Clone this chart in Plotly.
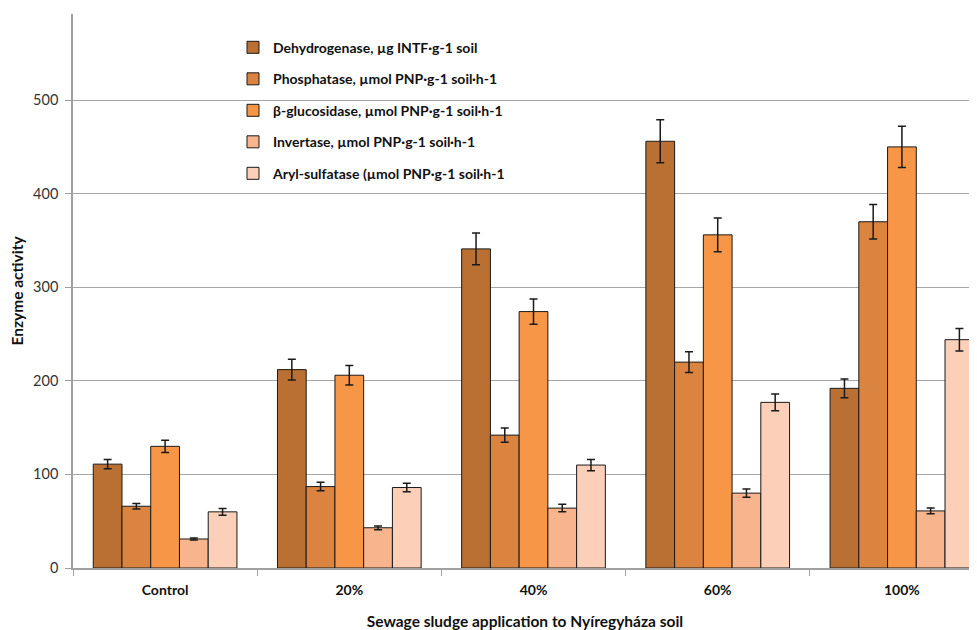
import plotly.graph_objects as go

categories = ["Control", "20%", "40%", "60%", "100%"]

series_names = [
    "Dehydrogenase, µg INTF·g-1 soil",
    "Phosphatase, µmol PNP·g-1 soil·h-1",
    "β-glucosidase, µmol PNP·g-1 soil·h-1",
    "Invertase, µmol PNP·g-1 soil·h-1",
    "Aryl-sulfatase (µmol PNP·g-1 soil·h-1",
]

dehydrogenase = [111, 212, 341, 456, 192]
phosphatase = [66, 87, 142, 220, 370]
glucosidase = [130, 206, 274, 356, 450]
invertase = [31, 43, 64, 80, 61]
arylsulfatase = [60, 86, 110, 177, 244]

dehydrogenase_err = [5, 11, 17, 23, 10]
phosphatase_err = [3, 4.5, 7.5, 11, 18.5]
glucosidase_err = [6.5, 10.5, 13.5, 18, 22]
invertase_err = [1, 2, 4, 4.5, 3]
arylsulfatase_err = [3.5, 4.5, 6, 9, 12]

colors = ["#BA7033", "#DA843F", "#F79646", "#F8B48D", "#FBCFB8"]

values = [dehydrogenase, phosphatase, glucosidase, invertase, arylsulfatase]
errors = [dehydrogenase_err, phosphatase_err, glucosidase_err, invertase_err, arylsulfatase_err]

FONT = "Lato"

fig = go.Figure()
for i, (name, v, e, c) in enumerate(zip(series_names, values, errors, colors)):
    fig.add_trace(go.Bar(
        x=categories, y=v, name=name,
        legendgroup=f"g{i}",
        marker=dict(color=c, line=dict(color="#1a1a1a", width=1)),
        error_y=dict(type="data", array=e, visible=True, color="#1a1a1a",
                     thickness=1.5, width=4),
    ))

# page body has an 8px margin, so the figure is sized to end at the window edge
fig.update_layout(
    width=969, height=622,
    paper_bgcolor="white", plot_bgcolor="white",
    margin=dict(l=65, r=0, t=6, b=62, autoexpand=False),
    barmode="group", bargap=0.22, bargroupgap=0,
    font=dict(family=FONT, size=13, color="#222222"),
    showlegend=True,
    legend=dict(
        x=0.177, y=0.968, xanchor="left", yanchor="top",
        bgcolor="rgba(0,0,0,0)", borderwidth=0,
        font=dict(family=FONT, size=14, color="#111111", weight="bold"),
        tracegroupgap=10.3, traceorder="grouped",
        itemwidth=30,
    ),
    xaxis=dict(
        range=[-0.5, 4.4076],
        showline=True, linecolor="#A0A0A0", linewidth=1.5,
        ticks="outside", tickson="boundaries", ticklen=6, tickcolor="#A0A0A0",
        ticklabelstandoff=8,
        tickfont=dict(family=FONT, size=14, color="#111111", weight="bold"),
        showgrid=False,
        title=dict(text="Sewage sludge application to Nyíregyháza soil",
                   font=dict(family=FONT, size=15.5, color="#111111", weight="bold"),
                   standoff=20),
    ),
    yaxis=dict(
        range=[0, 592],
        tickvals=[0, 100, 200, 300, 400, 500],
        showline=True, linecolor="#A0A0A0", linewidth=1.5,
        ticks="outside", ticklen=6, tickcolor="#A0A0A0",
        ticklabelstandoff=4,
        showgrid=True, gridcolor="#A6A6A6", gridwidth=1,
        zeroline=False,
        tickfont=dict(family=FONT, size=14.5, color="#333333"),
        title=dict(text="Enzyme activity",
                   font=dict(family=FONT, size=15.5, color="#111111", weight="bold"),
                   standoff=12),
    ),
)

fig.write_html("out.html")
